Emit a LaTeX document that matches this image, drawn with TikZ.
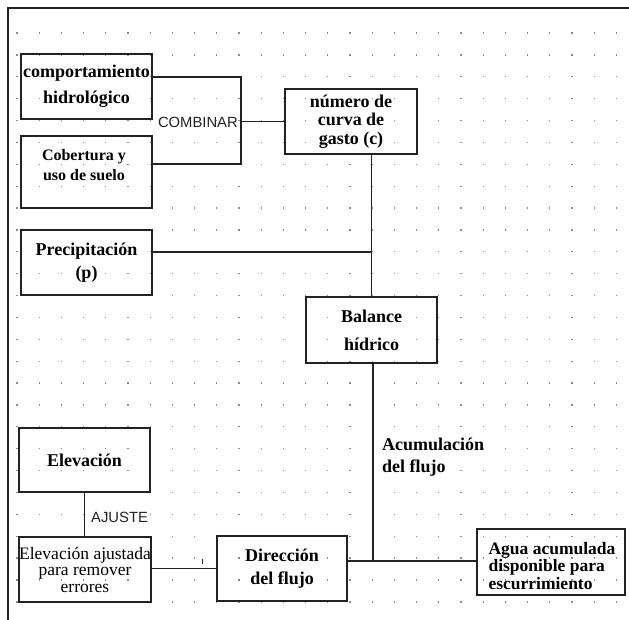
\documentclass[tikz,border=0pt]{standalone}
\usepackage{fontspec}
\setmainfont{Liberation Serif}
\newfontfamily\lsans{Liberation Sans}
\definecolor{linec}{HTML}{222222}
\definecolor{dotc}{HTML}{8C8C8C}
\begin{document}
\begin{tikzpicture}[x=1pt,y=-1pt,
  box/.style={draw=linec, line width=1.2pt, inner sep=0pt, align=center},
  bigbold/.style={font=\bfseries\fontsize{18}{#1}\selectfont},
  conn/.style={draw=linec, line width=1.2pt},
  lbl/.style={font=\lsans\fontsize{14.8}{16}\selectfont, inner sep=0pt, text=linec}]
\useasboundingbox (0,0) rectangle (629,620);
% dotted grid
\foreach \i in {0,...,27}{
  \foreach \j in {0,...,26}{
    \fill[dotc] ({17+22.2*\i-0.65},{33+21.88*\j-0.65}) rectangle ++(1.3,1.3);
  }
}
% frame
\draw[line width=2pt, draw=linec] (7.5,620) -- (7.5,8) -- (629,8);
% boxes
\node[box, bigbold=26, minimum width=131pt, minimum height=65pt] (comp) at (86.5,86.5) {comportamiento\\hidrológico};
\node[box, line width=2pt, minimum width=131pt, minimum height=72pt] (cob) at (86.5,172) {};
\node[align=center, inner sep=0pt, font=\bfseries\fontsize{16}{20}\selectfont] (cobt) at (84,165) {Cobertura y\\uso de suelo};
\node[box, bigbold=18.5, minimum width=132pt, minimum height=65pt] (num) at (351,121.5) {número de\\curva de\\gasto (c)};
\node[box, bigbold=23, minimum width=131pt, minimum height=65pt] (prec) at (86.5,262.5) {Precipitación\\(p)};
\node[box, bigbold=28, minimum width=131pt, minimum height=66pt] (bal) at (371.5,330) {Balance\\hídrico};
\node[box, bigbold=20, minimum width=131pt, minimum height=64pt] (elev) at (84.5,460) {Elevación};
\node[box, font=\fontsize{17.5}{16.5}\selectfont, minimum width=132pt, minimum height=65pt] (elaj) at (85,569.5) {Elevación ajustada\\para remover\\errores};
\node[box, bigbold=23, minimum width=130pt, minimum height=65pt] (dir) at (282,568.5) {Dirección\\del flujo};
\node[box, minimum width=148pt, minimum height=66pt] (agua) at (551,562) {};
\node[align=left, inner sep=0pt, font=\bfseries\fontsize{17.5}{17.5}\selectfont] (aguat) at (552,566) {Agua acumulada\\disponible para\\escurrimiento};
% connectors
\coordinate (comb) at (241,121.5);
\draw[conn] ([yshift=9.5pt]comp.east) -| (comb) |- ([yshift=8pt]cob.east);
\draw[conn] (comb) -- (num.west);
\node[lbl, anchor=base east] (combl) at (238,128) {COMBINAR};
\coordinate (pj) at (371.5,252);
\draw[conn] (num.south -| bal.north) -- (bal.north);
\draw[conn] ([yshift=10.5pt]prec.east) -- (pj);
\coordinate (aj) at (373,561);
\draw[conn] (bal.south -| aj) -- (aj);
\draw[conn] ([yshift=7.5pt]dir.east) -- (agua.west |- aj);
\node[align=left, inner sep=0pt, anchor=west, font=\bfseries\fontsize{18}{22}\selectfont] (acum) at (382,457) {Acumulación\\del flujo};
\draw[conn] (elev.south) -- (elev.south |- elaj.north);
\node[lbl, anchor=base west] (ajl) at (91,522) {AJUSTE};
\draw[conn] ([yshift=1pt]elaj.east) -- ([yshift=1pt]elaj.east -| dir.west);
\coordinate (tk1) at (202,559);
\coordinate (tk2) at (202,563.5);
\draw[draw=linec, line width=1pt] (tk1) -- (tk2);
\end{tikzpicture}
\end{document}
